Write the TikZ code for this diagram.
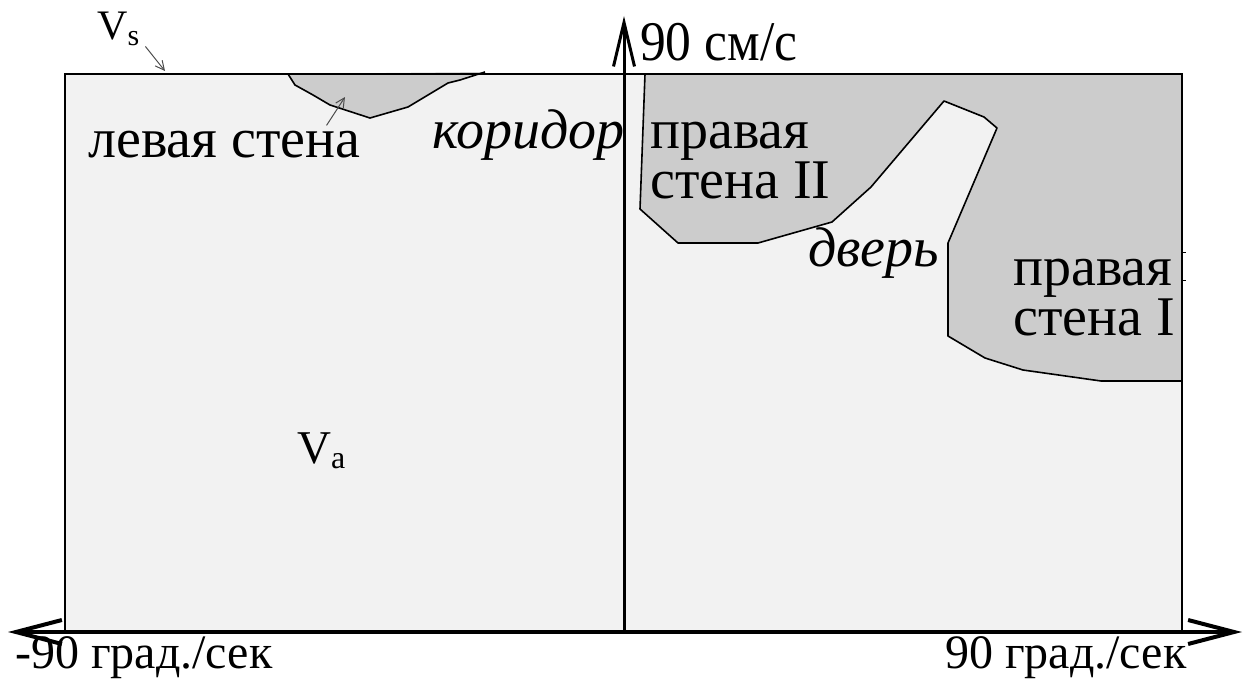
\documentclass[tikz,border=0pt]{standalone}
\usepackage{fontspec}
\setmainfont{Liberation Serif}
\usetikzlibrary{arrows.meta}
\definecolor{bgfill}{HTML}{F2F2F2}
\definecolor{wallfill}{HTML}{CCCCCC}
\begin{document}
\begin{tikzpicture}[x=1pt,y=-1pt,
  lbl/.style={inner sep=0pt, anchor=base west, font=\fontsize{56}{60}\selectfont},
  twolbl/.style={inner sep=0pt, anchor=base west, align=left, font=\fontsize{56}{45}\selectfont},
  ilbl/.style={inner sep=0pt, anchor=base west, font=\fontsize{56}{60}\selectfont\itshape},
  axlbl/.style={inner sep=0pt, anchor=base west, font=\fontsize{48}{52}\selectfont},
  wallfillst/.style={fill=wallfill},
  wallline/.style={draw=black, line width=1.6pt, line join=round},
  pointer/.style={draw=black!70, line width=1pt, -{Straight Barb[length=9pt,width=9pt]}},
  haxis/.style={line width=4pt, {Straight Barb[length=46pt,width=24pt]}-{Straight Barb[length=46pt,width=24pt]}},
  vaxis/.style={line width=3pt, -{Straight Barb[length=44pt,width=21pt]}}]
\path[use as bounding box] (0,0) rectangle (1248,685);
% panel background
\fill[bgfill] (65,74) rectangle (1182,632);
% left wall
\fill[wallfillst] (288,74) -- (295,85) -- (313,95) -- (330,105) -- (370,118) -- (408,107) -- (448,83) -- (460,80) -- (485,72) -- cycle;
\draw[wallline] (288,74) -- (295,85) -- (313,95) -- (330,105) -- (370,118) -- (408,107) -- (448,83) -- (460,80) -- (485,72);
% right walls
\fill[wallfillst] (645,74) -- (640,209) -- (678,243) -- (758,243) -- (832,222) -- (871,187) -- (944,101) -- (984,117) -- (997,128) -- (948,243) -- (948,336) -- (985,358) -- (1023,370) -- (1101,381) -- (1182,381) -- (1182,74) -- cycle;
\draw[wallline] (645,74) -- (640,209) -- (678,243) -- (758,243) -- (832,222) -- (871,187) -- (944,101) -- (984,117) -- (997,128) -- (948,243) -- (948,336) -- (985,358) -- (1023,370) -- (1101,381) -- (1182,381);
% panel border
\draw[line width=2pt] (65,74) rectangle (1182,632);
\draw[line width=0.8pt] (1182,252) -- (1186,252) (1182,280) -- (1186,280);
% axes
\coordinate (xl) at (8,632);
\coordinate (xr) at (1242,632);
\coordinate (org) at (624,632);
\coordinate (ytop) at (624,16);
\draw[haxis] (xl) -- (xr);
\draw[vaxis] (org) -- (ytop);
% labels
\node[lbl] (ylab) at (640,60) {\scalebox{0.92}[1]{90 см/с}};
\node[axlbl] (xminl) at (15,668) {-90 град./сек};
\node[axlbl] (xmaxl) at (945,668) {90 град./сек};
\node[lbl] (lw) at (88,157) {левая стена};
\node[ilbl] (cor) at (432,148) {коридор};
\node[twolbl] (rw2) at (650,198) {правая\\стена II};
\node[ilbl] (door) at (808,266) {дверь};
\node[twolbl] (rw1) at (1013,335) {правая\\стена I};
\node[inner sep=0pt, anchor=base west, font=\fontsize{42}{44}\selectfont] (vs) at (97,40) {V\raisebox{-6pt}{\fontsize{30}{30}\selectfont s}};
\node[inner sep=0pt, anchor=base west, font=\fontsize{47}{50}\selectfont] (va) at (297,463) {V\raisebox{-5pt}{\fontsize{32}{32}\selectfont a}};
% pointers
\coordinate (vstip) at (165,71);
\coordinate (lwtip) at (345,97);
\draw[pointer] ([shift={(6,0)}]vs.south east) -- (vstip);
\draw[pointer] ([shift={(-34,-5)}]lw.north east) -- (lwtip);
\end{tikzpicture}
\end{document}
